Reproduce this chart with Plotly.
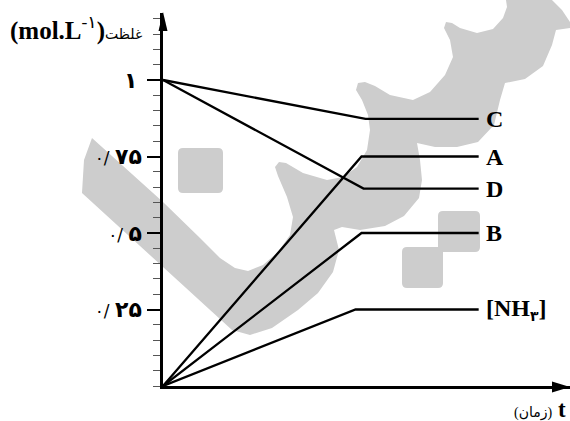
import plotly.graph_objects as go

# ---------------- data ----------------
series_names = ["C", "A", "D", "B", "[NH<sub><span style='font-size:14px'>۳</span></sub>]"]
t_C = [0, 5.1, 7.95]
conc_C = [1.0, 0.873, 0.873]
t_A = [0, 5.0, 7.95]
conc_A = [0.0, 0.75, 0.75]
t_D = [0, 5.05, 7.95]
conc_D = [1.0, 0.645, 0.645]
t_B = [0, 5.0, 7.95]
conc_B = [0.0, 0.5, 0.5]
t_N = [0, 4.85, 7.95]
conc_N = [0.0, 0.25, 0.25]

y_tickvals = [0.25, 0.5, 0.75, 1.0]
y_ticktext = [
    "<span style='font-size:17px'>۰/ </span><b>۲۵</b>",
    "<span style='font-size:17px'>۰/ </span><b>۵</b>",
    "<span style='font-size:17px'>۰/ </span><b>۷۵</b>",
    "<b>۱</b>\u2009",
]
y_title = "<b>(mol.L</b><sup>-۱</sup><b>)</b><span style='font-size:14px'>غلظت</span>"
x_title = "<span style='font-size:14px'>(زمان)</span> <b>t</b>"

# ---------------- layout geometry ----------------
W_FIG, H_FIG = 570, 421
M_L, M_T, M_R, M_B = 163, 13, 0, 35
PW = W_FIG - M_L - M_R
PH = H_FIG - M_T - M_B
X_MAX = 10.25
Y_MAX = PH / 306.0


def pxp(x):
    return (x - M_L) / PW


def pyp(y):
    return (M_T + PH - y) / PH


# watermark outline (pixel positions of the background logo)
WATERMARK_PX = [
    (92, 138), (163, 202), (200, 238), (220, 258), (235, 268), (248, 271),
    (263, 265), (278, 252), (290, 235), (293, 217), (287, 197), (278, 176),
    (275, 167), (279, 162), (286, 163), (303, 173), (327, 180), (343, 177),
    (357, 167), (367, 150), (370, 130), (368, 115), (362, 100), (356, 90),
    (358, 83), (365, 82), (375, 86), (390, 95), (413, 100), (430, 92),
    (445, 75), (453, 57), (450, 40), (444, 28), (446, 22), (452, 23),
    (460, 28), (477, 33), (493, 29), (503, 18), (507, 7), (506, 0),
    (552, 0), (562, 10), (570, 22), (570, 28), (556, 30), (552, 45),
    (543, 66), (525, 79), (505, 83), (500, 100), (494, 125), (478, 142),
    (457, 147), (435, 147), (417, 143), (420, 160), (422, 180), (419, 198),
    (404, 216), (385, 226), (360, 230), (342, 227), (334, 230), (339, 250),
    (333, 272), (318, 293), (298, 310), (272, 328), (250, 335), (232, 330),
    (82, 193), (84, 160),
]
SQUARES_PX = [(178, 148, 223, 193), (438, 211, 480, 252), (402, 247, 443, 288)]
GRAY = "#cdcdcd"

fig = go.Figure()

for tt, cc in [(t_C, conc_C), (t_A, conc_A), (t_D, conc_D), (t_B, conc_B), (t_N, conc_N)]:
    fig.add_trace(go.Scatter(
        x=tt, y=cc, mode="lines",
        line=dict(color="black", width=2.3, shape="linear"),
        showlegend=False, hoverinfo="skip",
    ))

shapes = []
path = "M " + " L ".join(f"{pxp(x):.5f},{pyp(y):.5f}" for x, y in WATERMARK_PX) + " Z"
shapes.append(dict(type="path", xref="paper", yref="paper", path=path,
                   fillcolor=GRAY, line=dict(width=0), layer="below"))


def rounded_rect(x0, y0, x1, y1, r=5):
    a = lambda x, y: f"{pxp(x):.5f},{pyp(y):.5f}"
    s = f"M {a(x0 + r, y0)} L {a(x1 - r, y0)} Q {a(x1, y0)} {a(x1, y0 + r)} "
    s += f"L {a(x1, y1 - r)} Q {a(x1, y1)} {a(x1 - r, y1)} "
    s += f"L {a(x0 + r, y1)} Q {a(x0, y1)} {a(x0, y1 - r)} "
    s += f"L {a(x0, y0 + r)} Q {a(x0, y0)} {a(x0 + r, y0)} Z"
    return s


for sq in SQUARES_PX:
    shapes.append(dict(type="path", xref="paper", yref="paper", path=rounded_rect(*sq),
                       fillcolor=GRAY, line=dict(width=0), layer="below"))

# axis arrowheads
shapes.append(dict(type="path", xref="paper", yref="paper",
                   path=f"M {pxp(163)},{pyp(12)} L {pxp(158.5)},{pyp(31)} L {pxp(167.5)},{pyp(31)} Z",
                   fillcolor="black", line=dict(width=0), layer="above"))
shapes.append(dict(type="path", xref="paper", yref="paper",
                   path=f"M {pxp(570)},{pyp(387)} L {pxp(552)},{pyp(381.5)} L {pxp(552)},{pyp(392.5)} Z",
                   fillcolor="black", line=dict(width=0), layer="above"))

annotations = []
label_font = dict(family="Liberation Serif, Times New Roman, DejaVu Sans", size=24, color="black")
for name, tt, cc in zip(series_names, [t_C, t_A, t_D, t_B, t_N],
                        [conc_C, conc_A, conc_D, conc_B, conc_N]):
    annotations.append(dict(x=tt[-1], y=cc[-1], xref="x", yref="y", text=f"<b>{name}</b>",
                            showarrow=False, xanchor="left", yanchor="middle", xshift=5,
                            font=label_font))

annotations.append(dict(x=pxp(8), y=pyp(28), xref="paper", yref="paper", text=y_title,
                        showarrow=False, xanchor="left", yanchor="middle",
                        font=dict(family="Liberation Serif, DejaVu Sans", size=25, color="black")))
annotations.append(dict(x=pxp(568), y=pyp(409), xref="paper", yref="paper", text=x_title,
                        showarrow=False, xanchor="right", yanchor="middle",
                        font=dict(family="Liberation Serif, DejaVu Sans", size=23, color="black")))

fig.update_layout(
    width=W_FIG, height=H_FIG,
    margin=dict(l=M_L, r=M_R, t=M_T, b=M_B, pad=0),
    paper_bgcolor="white", plot_bgcolor="rgba(0,0,0,0)",
    shapes=shapes, annotations=annotations,
    xaxis=dict(range=[0, X_MAX], showline=True, linecolor="black", linewidth=2.5,
               showgrid=False, zeroline=False, showticklabels=False, ticks=""),
    yaxis=dict(range=[0, Y_MAX], showline=True, linecolor="black", linewidth=2.5,
               showgrid=False, zeroline=False,
               tickmode="array", tickvals=y_tickvals, ticktext=y_ticktext,
               ticks="outside", ticklen=13, tickwidth=2, tickcolor="black",
               ticklabelstandoff=1,
               tickfont=dict(family="DejaVu Sans", size=22, color="black"),
               minor=dict(tickmode="linear", tick0=0, dtick=0.05, ticks="outside",
                          ticklen=7, tickwidth=1, tickcolor="#555555")),
)

fig.write_html(
    "out.html",
    config=dict(displayModeBar=False),
    post_script="document.body.style.margin='0';document.body.style.overflow='hidden';",
)
